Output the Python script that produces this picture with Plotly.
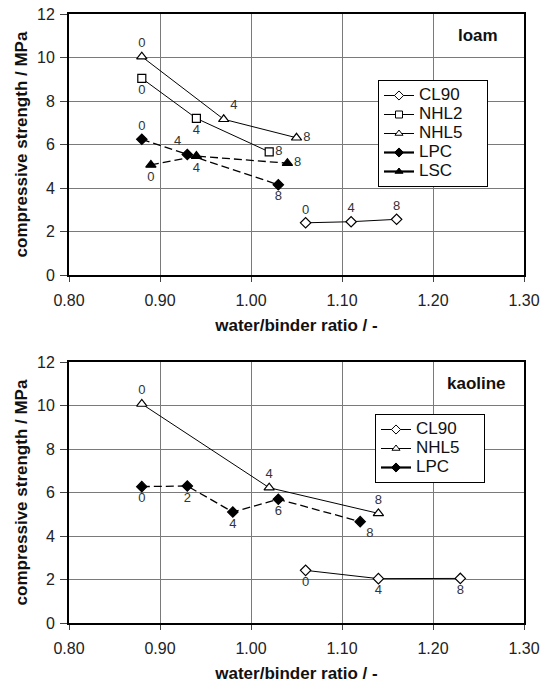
import plotly.graph_objects as go

# ---- data: loam panel ----
loam_cl90_x = [1.06, 1.11, 1.16]
loam_cl90_y = [2.40, 2.45, 2.56]
loam_cl90_lab = ["0", "4", "8"]

loam_nhl2_x = [0.88, 0.94, 1.02]
loam_nhl2_y = [9.04, 7.20, 5.66]
loam_nhl2_lab = ["0", "4", "8"]

loam_nhl5_x = [0.88, 0.97, 1.05]
loam_nhl5_y = [10.04, 7.16, 6.31]
loam_nhl5_lab = ["0", "4", "8"]

loam_lpc_x = [0.88, 0.93, 1.03]
loam_lpc_y = [6.24, 5.54, 4.15]
loam_lpc_lab = ["0", "4", "8"]

loam_lsc_x = [0.89, 0.94, 1.04]
loam_lsc_y = [5.06, 5.47, 5.14]
loam_lsc_lab = ["0", "4", "8"]

# ---- data: kaoline panel ----
kao_cl90_x = [1.06, 1.14, 1.23]
kao_cl90_y = [2.42, 2.04, 2.05]
kao_cl90_lab = ["0", "4", "8"]

kao_nhl5_x = [0.88, 1.02, 1.14]
kao_nhl5_y = [10.07, 6.22, 5.04]
kao_nhl5_lab = ["0", "4", "8"]

kao_lpc_x = [0.88, 0.93, 0.98, 1.03, 1.12]
kao_lpc_y = [6.27, 6.30, 5.10, 5.69, 4.66]
kao_lpc_lab = ["0", "2", "4", "6", "8"]

x_ticks = [0.80, 0.90, 1.00, 1.10, 1.20, 1.30]
y_ticks = [0, 2, 4, 6, 8, 10, 12]

FONT = "Liberation Sans, Arial, sans-serif"
TXT = dict(family=FONT, size=13, color="#333333")

STYLE = {
    "CL90": dict(symbol="diamond", fill="white", dash="solid", size=8),
    "NHL2": dict(symbol="square", fill="white", dash="solid", size=8),
    "NHL5": dict(symbol="triangle-up", fill="white", dash="solid", size=9),
    "LPC": dict(symbol="diamond", fill="black", dash="8px,4px", size=8),
    "LSC": dict(symbol="triangle-up", fill="black", dash="8px,4px", size=9),
}

fig = go.Figure()

def add(x, y, lab, name, xa, ya, tpos):
    s = STYLE[name]
    fig.add_trace(go.Scatter(
        x=x, y=y, name=name, mode="lines+markers+text", text=lab,
        textposition=tpos, textfont=TXT, showlegend=False,
        line=dict(color="black", width=1 if s["fill"] == "white" else 1.3, dash=s["dash"]),
        marker=dict(symbol=s["symbol"], size=s["size"], color=s["fill"],
                    line=dict(color="black", width=1.2)),
        xaxis=xa, yaxis=ya, cliponaxis=False))

PAD = '<span style="color:rgba(0,0,0,0)">MM</span>'

def legend_entry(name, xa, ya, leg):
    s = STYLE[name]
    thick = s["fill"] == "black"
    fig.add_trace(go.Scatter(
        x=[None], y=[None], mode="lines+markers",
        name='<span style="font-size:17px">' + name + "</span>" + PAD,
        line=dict(color="black", width=2.2 if thick else 1, dash="solid"),
        marker=dict(symbol=s["symbol"], size=7, color=s["fill"],
                    line=dict(color="black", width=1)),
        xaxis=xa, yaxis=ya, legend=leg, showlegend=True))

# top panel
add(loam_cl90_x, loam_cl90_y, loam_cl90_lab, "CL90", "x", "y",
    ["top center", "top center", "top center"])
add(loam_nhl2_x, loam_nhl2_y, loam_nhl2_lab, "NHL2", "x", "y",
    ["bottom center", "bottom center", "middle right"])
add(loam_nhl5_x, loam_nhl5_y, loam_nhl5_lab, "NHL5", "x", "y",
    ["top center", "top right", "middle right"])
add(loam_lpc_x, loam_lpc_y, loam_lpc_lab, "LPC", "x", "y",
    ["top center", "top left", "bottom center"])
add(loam_lsc_x, loam_lsc_y, loam_lsc_lab, "LSC", "x", "y",
    ["bottom center", "bottom center", "middle right"])
for n in ["CL90", "NHL2", "NHL5", "LPC", "LSC"]:
    legend_entry(n, "x", "y", "legend")

# bottom panel
add(kao_cl90_x, kao_cl90_y, kao_cl90_lab, "CL90", "x2", "y2",
    ["bottom center", "bottom center", "bottom center"])
add(kao_nhl5_x, kao_nhl5_y, kao_nhl5_lab, "NHL5", "x2", "y2",
    ["top center", "top center", "top center"])
add(kao_lpc_x, kao_lpc_y, kao_lpc_lab, "LPC", "x2", "y2",
    ["bottom center", "bottom center", "bottom center", "bottom center", "bottom right"])
for n in ["CL90", "NHL5", "LPC"]:
    legend_entry(n, "x2", "y2", "legend2")

W, H = 550, 683
xdom = [69 / W, 524 / W]
ydom_top = [1 - 275 / H, 1 - 14 / H]
ydom_bot = [1 - 623 / H, 1 - 362 / H]

def xax(anchor):
    return dict(domain=xdom, range=[0.8, 1.3], tickvals=x_ticks, tickformat=".2f",
                showgrid=True, gridcolor="#7a7a7a", gridwidth=1.3, zeroline=False,
                showline=True, linecolor="black", linewidth=1.8, mirror=True,
                ticks="outside", ticklen=5, tickcolor="#444", ticklabelstandoff=5,
                tickfont=dict(family=FONT, size=16, color="#222"),
                title=dict(text="<b>water/binder ratio / -</b>", standoff=11,
                           font=dict(family=FONT, size=17, color="#111")),
                anchor=anchor)

def yax(dom, anchor):
    return dict(domain=dom, range=[0, 12], tickvals=y_ticks,
                showgrid=True, gridcolor="#7a7a7a", gridwidth=1.3, zeroline=False,
                showline=True, linecolor="black", linewidth=1.8, mirror=True,
                ticks="outside", ticklen=7, tickcolor="#444", ticklabelstandoff=2,
                tickfont=dict(family=FONT, size=16, color="#222"),
                title=dict(text="<b>compressive strength / MPa</b>", standoff=5,
                           font=dict(family=FONT, size=17, color="#111")),
                anchor=anchor)

leg_common = dict(bgcolor="white", bordercolor="black", borderwidth=1,
                  font=dict(family=FONT, size=11.5, color="#111"),
                  xanchor="left", yanchor="top", tracegroupgap=0, itemwidth=30)

fig.update_layout(
    template="none",
    width=W, height=H, margin=dict(l=0, r=0, t=0, b=0),
    plot_bgcolor="white", paper_bgcolor="white",
    xaxis=xax("y"), yaxis=yax(ydom_top, "x"),
    xaxis2=xax("y2"), yaxis2=yax(ydom_bot, "x2"),
    legend=dict(x=378 / W, y=1 - 80 / H, **leg_common),
    legend2=dict(x=375 / W, y=1 - 414 / H, **leg_common),
    annotations=[
        dict(text="<b>loam</b>", x=1.2495, y=11.03, xref="x", yref="y", showarrow=False,
             font=dict(family=FONT, size=17, color="#111")),
        dict(text="<b>kaoline</b>", x=1.248, y=10.99, xref="x2", yref="y2", showarrow=False,
             font=dict(family=FONT, size=17, color="#111")),
    ],
)

fig.write_html("out.html")
